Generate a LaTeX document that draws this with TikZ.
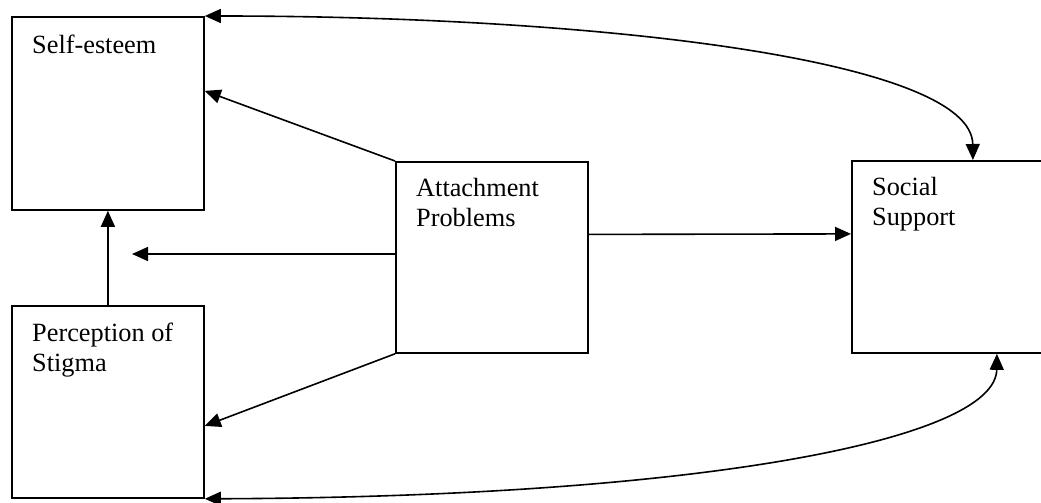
\documentclass[tikz,border=0pt]{standalone}
\usepackage{fontspec}
\setmainfont{Liberation Serif}
\usetikzlibrary{arrows.meta}

\begin{document}
\begin{tikzpicture}[x=1pt,y=-1pt]
  \tikzstyle{every node}+=[inner sep=0pt]
  \tikzstyle{box}=[draw=black, line width=1.8pt, anchor=north west, minimum width=192pt, minimum height=192pt]
  \tikzstyle{txt}=[anchor=north west, align=left, font=\fontsize{26.3}{30}\selectfont]
  \tikzstyle{arr}=[black, line width=1.6pt, -{Triangle[length=16pt,width=14pt]}]
  \tikzstyle{arrs}=[black, line width=1.6pt, {Triangle[length=16pt,width=14pt]}-{Triangle[length=16pt,width=14pt]}]
  \useasboundingbox (0,0) rectangle (1041,503);
  \node [box, minimum height=193pt] (self) at (11,16) {};
  \node [txt] (selft) at ([xshift=21pt,yshift=-19pt]self.north west) {Self-esteem};
  \node [box] (stig) at (11,305) {};
  \node [txt] (stigt) at ([xshift=21pt,yshift=-18pt]stig.north west) {Perception of\\Stigma};
  \node [box, minimum height=191pt] (att) at (395,161) {};
  \node [txt] (attt) at ([xshift=21pt,yshift=-17pt]att.north west) {Attachment\\Problems};
  \node [box, minimum width=200pt] (soc) at (851,160) {};
  \node [txt] (soct) at ([xshift=21pt,yshift=-17pt]soc.north west) {Social\\Support};
  \coordinate (leftend) at (132,254);
  \draw [arr] (att.north west) -- ([yshift=22.5pt]self.east);
  \draw [arr] (att.west |- leftend) -- (leftend);
  \draw [arr] (att.south west) -- ([yshift=-24pt]stig.east);
  \draw [arr] (stig.north) -- (self.south);
  \draw [arr] ([yshift=23pt]att.east) -- ([yshift=23pt]soc.west);
  \draw [arrs] (self.north east) .. controls (600,16) and (972,60) .. ([xshift=21pt]soc.north);
  \draw [arrs] (stig.south east) .. controls (700,497) and (996,440) .. ([xshift=45pt]soc.south);
\end{tikzpicture}
\end{document}
